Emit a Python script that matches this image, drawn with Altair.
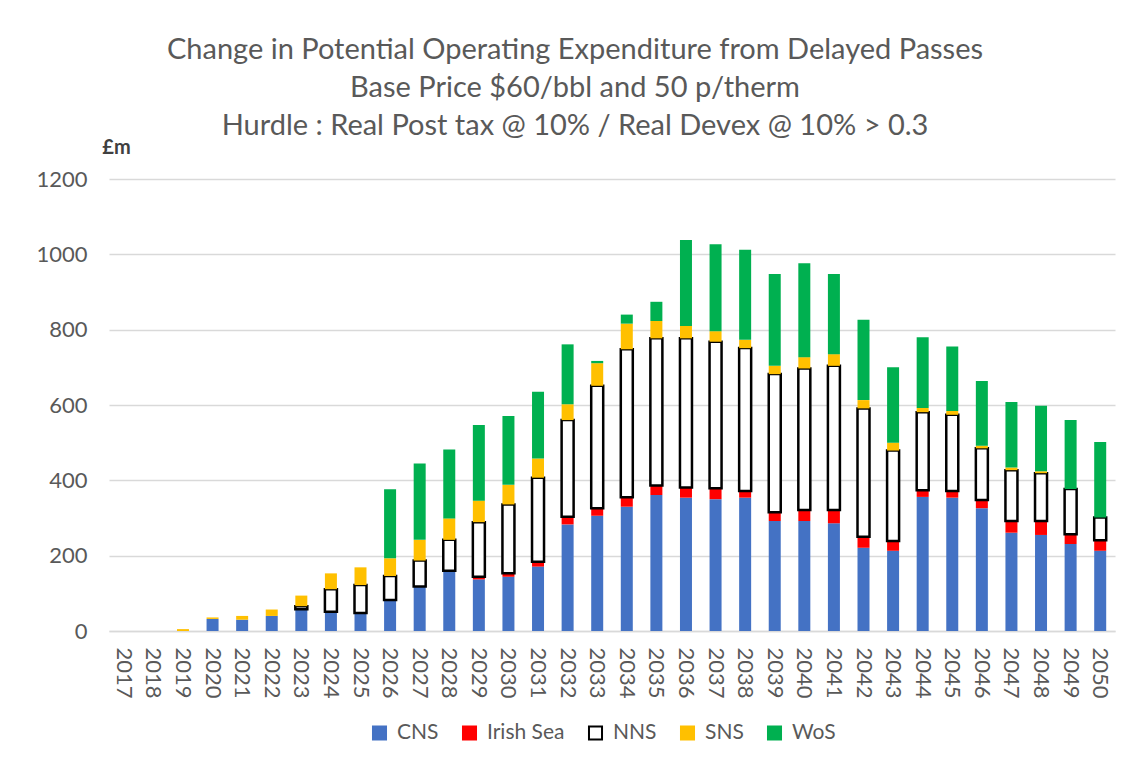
import altair as alt
import pandas as pd

years = [str(y) for y in range(2017, 2051)]
regions = ["CNS", "Irish Sea", "NNS", "SNS", "WoS"]

cns = [0, 0, 0, 32, 30, 40, 58, 51, 48, 82, 118, 157, 137, 144, 171, 283, 306,
       330, 361, 354, 350, 354, 292, 292, 286, 221, 213, 356, 354, 326, 261, 255, 231, 213]
irish = [0, 0, 0, 0, 0, 0, 0, 0, 0, 0, 0, 3, 7, 9, 13, 20, 20,
         25, 25, 27, 29, 18, 23, 29, 35, 29, 26, 18, 18, 22, 31, 37, 26, 28]
nns = [0, 0, 0, 0, 0, 0, 8, 60, 74, 64, 69, 82, 145, 183, 223, 257, 325,
       393, 391, 396, 389, 379, 367, 376, 383, 341, 240, 207, 202, 137, 135, 127, 120, 60]
sns = [0, 0, 5, 4, 10, 17, 28, 42, 47, 47, 55, 57, 57, 52, 51, 42, 60,
       68, 46, 33, 28, 22, 22, 30, 31, 22, 21, 11, 10, 7, 7, 5, 0, 0]
wos = [0, 0, 0, 0, 0, 0, 0, 0, 0, 183, 203, 183, 201, 183, 177, 159, 6,
       24, 51, 228, 231, 239, 244, 249, 213, 213, 200, 188, 171, 172, 174, 174, 183, 201]

fills = ["#4472C4", "#FF0000", "#FFFFFF", "#FFC000", "#00B050"]
strokes = ["#4472C4", "#FF0000", "#000000", "#FFC000", "#00B050"]
y_ticks = [0, 200, 400, 600, 800, 1000, 1200]

rows = []
for i, yr in enumerate(years):
    for k, (reg, vals) in enumerate(zip(regions, [cns, irish, nns, sns, wos])):
        rows.append({"year": yr, "region": reg, "value": vals[i], "order": k})
df = pd.DataFrame(rows)

FONT = "Lato"
GREY = "#595959"

legend = alt.Legend(
    title=None, orient="none", direction="horizontal", legendX=260, legendY=543,
    symbolType="square", symbolSize=170, symbolStrokeWidth=2,
    labelFont=FONT, labelFontSize=21, labelColor=GREY, labelOffset=7,
    columnPadding=19,
)

chart = alt.Chart(df).transform_filter("datum.value > 0").mark_bar(size=12).encode(
    x=alt.X("year:N", sort=years, scale=alt.Scale(domain=years), title=None,
            axis=alt.Axis(labelAngle=90, labelPadding=16, ticks=False,
                          domainColor="#D9D9D9", domainWidth=1.5,
                          labelFont=FONT, labelFontSize=22, labelColor=GREY)),
    y=alt.Y("value:Q", stack="zero", scale=alt.Scale(domain=[0, 1200], nice=False),
            axis=alt.Axis(values=y_ticks, format="d", title="£m", titleAngle=0, titleX=7, titleY=-32,
                          titleAlign="center", titleBaseline="middle",
                          titleFont=FONT, titleFontSize=20, titleFontWeight="bold",
                          titleColor="#404040", labelPadding=22, ticks=False, domain=False,
                          gridColor="#D9D9D9", gridWidth=1.3,
                          labelFont=FONT, labelFontSize=22, labelColor=GREY)),
    fill=alt.Fill("region:N", scale=alt.Scale(domain=regions, range=fills), legend=legend),
    stroke=alt.Stroke("region:N", scale=alt.Scale(domain=regions, range=strokes), legend=legend),
    strokeWidth=alt.condition("datum.region === 'NNS'", alt.value(2.5), alt.value(0)),
    order=alt.Order("order:Q", sort="ascending"),
).properties(
    width=1006, height=452,
    title=alt.TitleParams(
        text=["Change in Potential Operating Expenditure from Delayed Passes",
              "Base Price $60/bbl and 50 p/therm",
              "Hurdle : Real Post tax @ 10% / Real Devex @ 10% > 0.3"],
        font=FONT, fontSize=29, fontWeight="normal", color=GREY,
        anchor="middle", frame="group", dx=-37, lineHeight=38, offset=-4),
    autosize=alt.AutoSizeParams(type="none"),
    padding={"left": 101, "top": 171, "right": 13, "bottom": 128},
).configure_view(stroke=None)

chart.save("out.html", embed_options={"renderer": "svg", "actions": False})
